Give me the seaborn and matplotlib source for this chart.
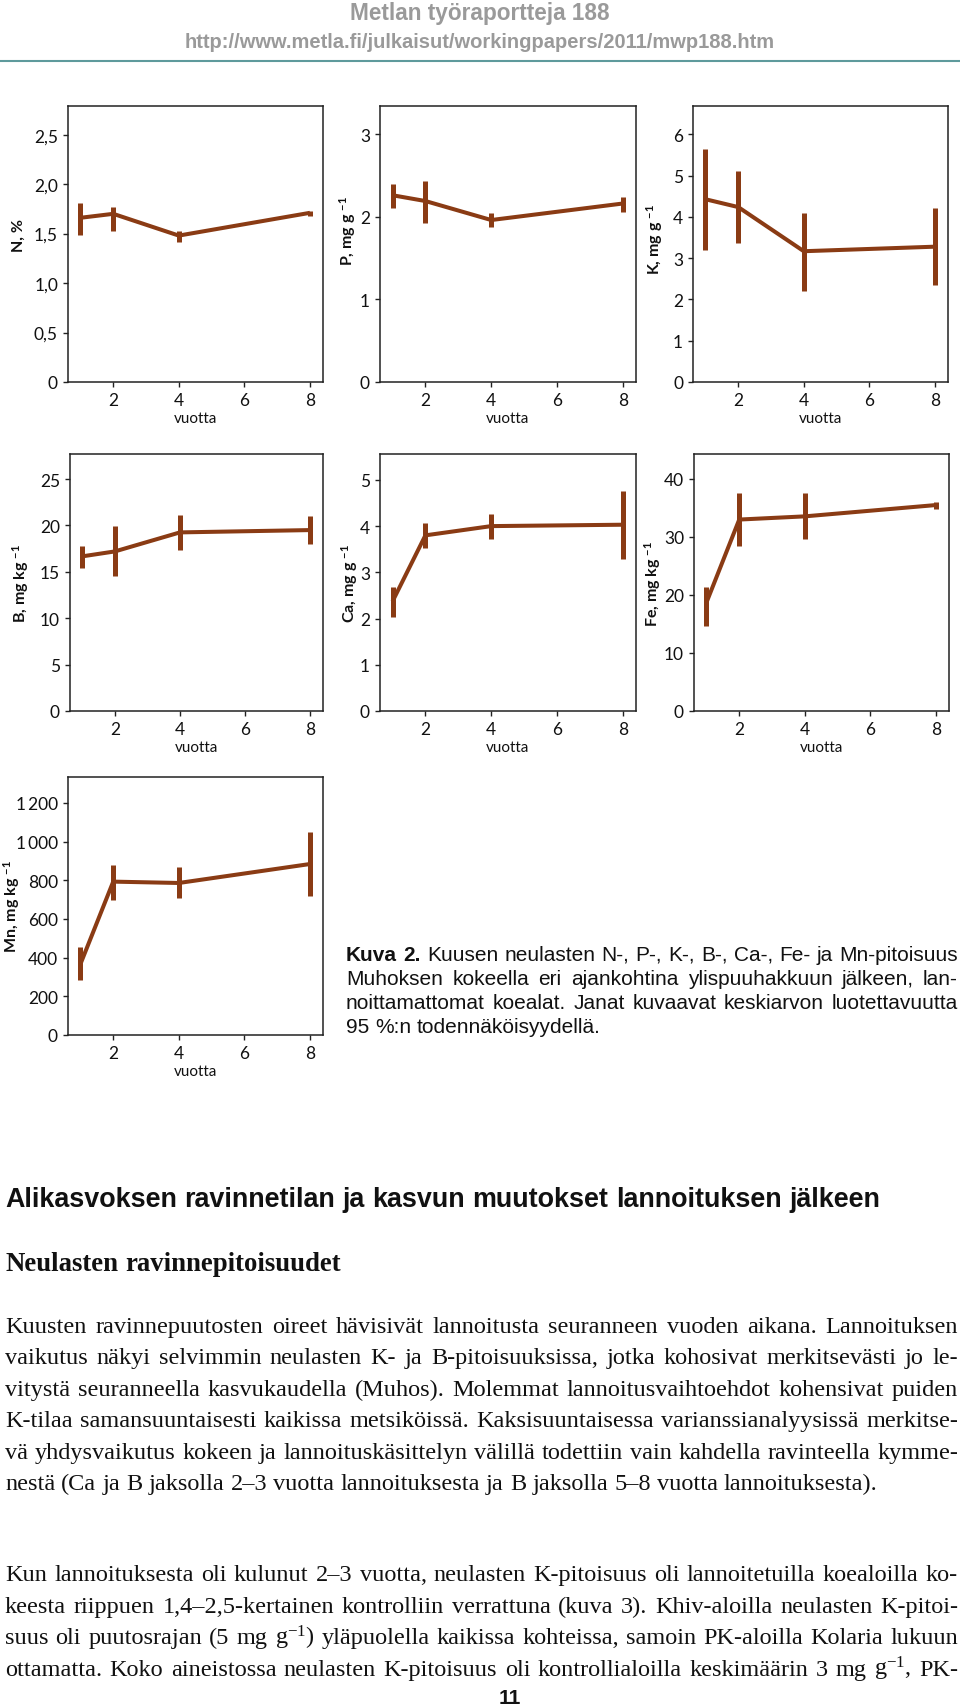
import matplotlib.pyplot as plt
import pandas as pd
import seaborn as sns

# ARVOT LUETTU KUVASTA (keskiarvo, 95 % luottamusvälin ala- ja yläraja)
vuodet = [1, 2, 4, 8]

n_ka = [1.66, 1.70, 1.48, 1.71]
n_ala = [1.49, 1.53, 1.415, 1.68]
n_yla = [1.81, 1.77, 1.53, 1.73]

p_ka = [2.26, 2.19, 1.96, 2.16]
p_ala = [2.105, 1.92, 1.88, 2.06]
p_yla = [2.40, 2.43, 2.04, 2.24]

k_ka = [4.43, 4.24, 3.17, 3.28]
k_ala = [3.19, 3.37, 2.21, 2.36]
k_yla = [5.64, 5.11, 4.10, 4.22]

b_ka = [16.67, 17.2, 19.25, 19.5]
b_ala = [15.4, 14.5, 17.4, 18.03]
b_yla = [17.8, 19.9, 21.1, 20.97]

ca_ka = [2.37, 3.80, 4.00, 4.03]
ca_ala = [2.03, 3.52, 3.73, 3.29]
ca_yla = [2.69, 4.07, 4.27, 4.76]

fe_ka = [18.7, 33.0, 33.55, 35.5]
fe_ala = [14.6, 28.4, 29.6, 34.8]
fe_yla = [21.4, 37.6, 37.5, 36.1]

mn_ka = [367, 793, 786, 884]
mn_ala = [284, 700, 707, 717]
mn_yla = [453, 879, 867, 1052]

# AKSELIEN JAOTUS JA NIMET
n_jako = [0, 0.5, 1, 1.5, 2, 2.5]
n_nimet = ['0', '0,5', '1,0', '1,5', '2,0', '2,5']
p_jako = [0, 1, 2, 3]
k_jako = [0, 1, 2, 3, 4, 5, 6]
b_jako = [0, 5, 10, 15, 20, 25]
ca_jako = [0, 1, 2, 3, 4, 5]
fe_jako = [0, 10, 20, 30, 40]
mn_jako = [0, 200, 400, 600, 800, 1000, 1200]
mn_nimet = ['0', '200', '400', '600', '800', '1\u2009000', '1\u2009200']
x_jako = [2, 4, 6, 8]

# TEKSTIT
otsikko = 'Metlan työraportteja 188'
osoite = 'http://www.metla.fi/julkaisut/workingpapers/2011/mwp188.htm'
kuvateksti = [
    'Kuva 2. Kuusen neulasten N-, P-, K-, B-, Ca-, Fe- ja Mn-pitoisuus',
    'Muhoksen kokeella eri ajankohtina ylispuuhakkuun jälkeen, lan-',
    'noittamattomat koealat. Janat kuvaavat keskiarvon luotettavuutta',
    '95 %:n todennäköisyydellä.',
]
luku_otsikko = 'Alikasvoksen ravinnetilan ja kasvun muutokset lannoituksen jälkeen'
ala_otsikko = 'Neulasten ravinnepitoisuudet'
kappale1 = [
    'Kuusten ravinnepuutosten oireet hävisivät lannoitusta seuranneen vuoden aikana. Lannoituksen',
    'vaikutus näkyi selvimmin neulasten K- ja B-pitoisuuksissa, jotka kohosivat merkitsevästi jo le-',
    'vitystä seuranneella kasvukaudella (Muhos). Molemmat lannoitusvaihtoehdot kohensivat puiden',
    'K-tilaa samansuuntaisesti kaikissa metsiköissä. Kaksisuuntaisessa varianssianalyysissä merkitse-',
    'vä yhdysvaikutus kokeen ja lannoituskäsittelyn välillä todettiin vain kahdella ravinteella kymme-',
    'nestä (Ca ja B jaksolla 2–3 vuotta lannoituksesta ja B jaksolla 5–8 vuotta lannoituksesta).',
]
kappale2 = [
    'Kun lannoituksesta oli kulunut 2–3 vuotta, neulasten K-pitoisuus oli lannoitetuilla koealoilla ko-',
    'keesta riippuen 1,4–2,5-kertainen kontrolliin verrattuna (kuva 3). Khiv-aloilla neulasten K-pitoi-',
    'suus oli puutosrajan (5 mg g$^{-1}$) yläpuolella kaikissa kohteissa, samoin PK-aloilla Kolaria lukuun',
    'ottamatta. Koko aineistossa neulasten K-pitoisuus oli kontrollialoilla keskimäärin 3 mg g$^{-1}$, PK-',
]
sivu = '11'

# TYYLI
sns.set_theme(style='ticks')
plt.rcParams['font.family'] = ['Lato', 'DejaVu Sans']
plt.rcParams['mathtext.default'] = 'regular'
ruskea = '#8a3b14'

W, H = 960, 1706
fig = plt.figure(figsize=(W / 100, H / 100), dpi=100)


def laatikko(vasen, yla, oikea, ala):
    return [vasen / W, 1 - ala / H, (oikea - vasen) / W, (ala - yla) / H]


# (nimi, ka, ala, yla, jako, nimet, ylaraja, paikka, nimen x, nimen y)
paneelit = [
    ('N, %', n_ka, n_ala, n_yla, n_jako, n_nimet, 2.79, (68, 107, 323, 383), -0.165, 0.535),
    ('P, mg g $^{-1}$', p_ka, p_ala, p_yla, p_jako, None, 3.34, (380, 107, 636, 383), -0.085, 0.55),
    ('K, mg g $^{-1}$', k_ka, k_ala, k_yla, k_jako, None, 6.69, (693, 107, 948, 383), -0.11, 0.52),
    ('B, mg kg $^{-1}$', b_ka, b_ala, b_yla, b_jako, None, 27.7, (70, 455, 323, 712), -0.155, 0.5),
    ('Ca, mg g $^{-1}$', ca_ka, ca_ala, ca_yla, ca_jako, None, 5.56, (380, 455, 636, 712), -0.08, 0.5),
    ('Fe, mg kg $^{-1}$', fe_ka, fe_ala, fe_yla, fe_jako, None, 44.3, (694, 455, 949, 712), -0.12, 0.5),
    ('Mn, mg kg $^{-1}$', mn_ka, mn_ala, mn_yla, mn_jako, mn_nimet, 1334, (68, 778, 323, 1036), -0.18, 0.5),
]

for nimi, ka, ala, yla, jako, nimet, ylaraja, paikka, nx, ny in paneelit:
    ax = fig.add_axes(laatikko(*paikka))
    df = pd.DataFrame({'vuotta': vuodet, 'arvo': ka})
    sns.lineplot(data=df, x='vuotta', y='arvo', ax=ax, color=ruskea, lw=2.9,
                 errorbar=None, solid_capstyle='butt', solid_joinstyle='miter')
    ax.vlines(vuodet, ala, yla, color=ruskea, lw=3.6)
    ax.set_xlim(0.62, 8.4)
    ax.set_ylim(0, ylaraja)
    ax.set_xticks(x_jako)
    ax.set_yticks(jako)
    if nimet is not None:
        ax.set_yticklabels(nimet)
    ax.tick_params(direction='out', length=3.6, width=1.0, labelsize=12.5, pad=3.6,
                   color='#222222', labelcolor='#111111')
    for s in ax.spines.values():
        s.set_linewidth(1.1)
        s.set_color('#222222')
    ax.set_xlabel('vuotta', fontsize=11, labelpad=2, color='#111111')
    ax.set_ylabel(nimi, fontsize=11.5, fontweight='bold', color='#111111')
    ax.yaxis.set_label_coords(nx, ny)

renderer = fig.canvas.get_renderer()


def mitta(teksti, koko, perhe, paino='normal'):
    t = fig.text(0, 0, teksti, fontsize=koko, family=perhe, fontweight=paino)
    w = t.get_window_extent(renderer).width
    t.remove()
    return w


def sovita(rivit, leveys, perhe, paino='normal'):
    # fonttikoko, jolla pisin rivi mahtuu leveyteen normaaleilla väleillä
    pisin = max(mitta(r, 20, perhe, paino) for r in rivit)
    return 20 * leveys / pisin


def rivi(teksti, x0, x1, y, koko, perhe, tasaa=True, lihavat=0, paino='normal'):
    sanat = teksti.split(' ')
    osat = []
    for i, s in enumerate(sanat):
        w = 'bold' if i < lihavat else paino
        osat.append(fig.text(0, 1 - y / H, s, fontsize=koko, family=perhe, fontweight=w,
                             va='baseline', ha='left', color='#111111'))
    lev = [t.get_window_extent(renderer).width for t in osat]
    if tasaa and len(sanat) > 1:
        vali = (x1 - x0 - sum(lev)) / (len(sanat) - 1)
    else:
        vali = mitta('a a', koko, perhe, paino) - mitta('aa', koko, perhe, paino)
    x = x0
    for t, w in zip(osat, lev):
        t.set_x(x / W)
        x += w + vali


sans = 'Liberation Sans'
serif = 'Liberation Serif'

# YLÄTUNNISTE
harmaa = '#9a9a9a'
fig.text(0.5, 1 - 20 / H, otsikko, ha='center', va='baseline',
         fontsize=sovita([otsikko], 260, sans, 'bold'),
         fontweight='bold', color=harmaa, family=sans)
fig.text(0.5, 1 - 48 / H, osoite, ha='center', va='baseline',
         fontsize=sovita([osoite], 592, sans, 'bold'),
         fontweight='bold', color=harmaa, family=sans)
fig.add_artist(plt.Line2D([0, 1], [1 - 62 / H] * 2, color='#5e9a9c', lw=1.5,
                          transform=fig.transFigure))

# KUVATEKSTI
koko_kt = sovita(kuvateksti[:3], 604, sans)
for i, r in enumerate(kuvateksti):
    rivi(r, 346, 958, 961 + i * 24, koko_kt, sans, tasaa=i < 3, lihavat=2 if i == 0 else 0)

rivi(luku_otsikko, 5, 958, 1207, sovita([luku_otsikko], 874, sans, 'bold'), sans,
     tasaa=False, paino='bold')
rivi(ala_otsikko, 5, 958, 1271, sovita([ala_otsikko], 335, serif, 'bold'), serif,
     tasaa=False, paino='bold')

koko_lt = sovita(kappale1[:5] + kappale2, 945, serif)
for i, r in enumerate(kappale1):
    rivi(r, 5, 958, 1333 + i * 31.4, koko_lt, serif, tasaa=i < 5)
for i, r in enumerate(kappale2):
    rivi(r, 5, 958, 1581 + i * 31.6, koko_lt, serif, tasaa=True)

fig.text(510 / W, 1 - 1704 / H, sivu, ha='center', va='baseline', fontsize=15,
         fontweight='bold', family=sans, color='#111111')

plt.savefig('out.png', dpi=100)
